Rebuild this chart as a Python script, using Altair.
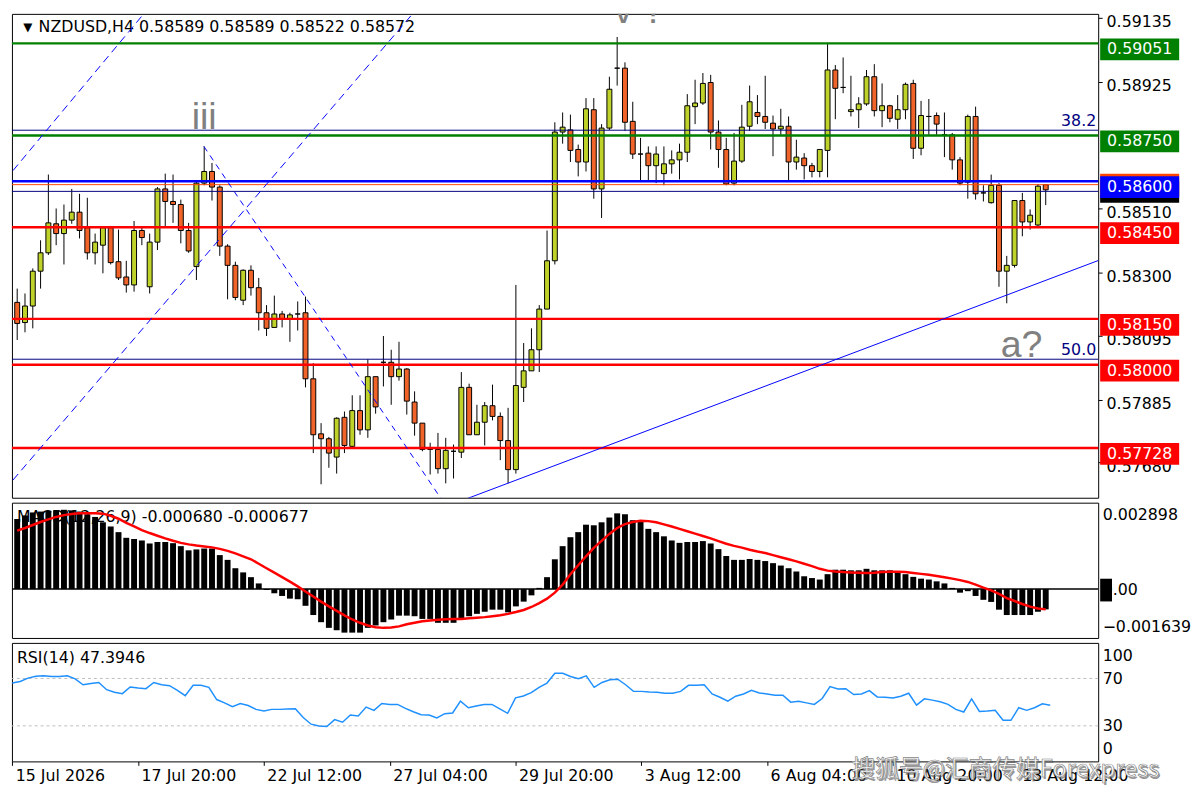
import altair as alt
import pandas as pd

# ---------------- data ----------------
# prices in points (1 point = 0.00001)
open_pts = [
    58204, 58138, 58192, 58306, 58366, 58461, 58429, 58473, 58499, 58448,
    58366, 58391, 58448, 58337, 58287, 58261, 58439, 58255, 58401, 58575,
    58534, 58524, 58439, 58321, 58594, 58632, 58581, 58388, 58325, 58211,
    58309, 58252, 58170, 58122, 58166, 58150, 58166, 58170, 57954, 57774,
    57758, 57698, 57828, 57733, 57850, 57787, 57961, 58008, 58008, 57961,
    57986, 57878, 57809, 57723, 57723, 57660, 57717, 57714, 57926, 57771,
    57812, 57866, 57831, 57752, 57657, 57926, 57980, 58049, 58182, 58340,
    58761, 58768, 58704, 58663, 58834, 58575, 58774, 58970, 58970, 58796,
    58689, 58692, 58651, 58625, 58657, 58670, 58695, 58844, 58856, 58923,
    58761, 58704, 58594, 58666, 58780, 58825, 58812, 58790, 58771, 58780,
    58663, 58676, 58651, 58632, 58701, 58964, 58907, 58828, 58834, 58853,
    58942, 58831, 58847, 58803, 58834, 58920, 58708, 58812, 58815, 58752,
    58752, 58670, 58597, 58812, 58562, 58530, 58587, 58306, 58325, 58537,
    58467, 58457, 58589,
]
high_pts = [
    58249, 58233, 58315, 58407, 58622, 58511, 58524, 58575, 58559, 58546,
    58429, 58448, 58454, 58442, 58340, 58470, 58451, 58429, 58581, 58625,
    58622, 58540, 58464, 58600, 58714, 58660, 58587, 58394, 58337, 58312,
    58325, 58284, 58195, 58226, 58176, 58170, 58207, 58223, 58005, 57809,
    57764, 57828, 57847, 57900, 57900, 58018, 57961, 58094, 58049, 58075,
    57989, 57913, 57809, 57745, 57777, 57761, 57739, 57976, 57938, 57869,
    57878, 57935, 57844, 57859, 58261, 58071, 58119, 58195, 58439, 58793,
    58825, 58818, 58720, 58872, 58872, 58787, 58942, 59072, 58989, 58860,
    58742, 58714, 58714, 58714, 58701, 58723, 58885, 58932, 58954, 58948,
    58799, 58742, 58758, 58850, 58913, 58882, 58945, 58815, 58837, 58812,
    58736, 58692, 58660, 58704, 59053, 58980, 59005, 58945, 58875, 58964,
    58983, 58920, 58850, 58882, 58923, 58932, 58863, 58869, 58825, 58825,
    58758, 58679, 58818, 58844, 58587, 58622, 58594, 58356, 58537, 58562,
    58508, 58591, 58589,
]
low_pts = [
    58081, 58106, 58119, 58249, 58359, 58391, 58328, 58461, 58413, 58344,
    58328, 58299, 58328, 58277, 58236, 58239, 58391, 58233, 58375, 58451,
    58464, 58397, 58366, 58277, 58587, 58537, 58356, 58214, 58211, 58195,
    58226, 58112, 58094, 58122, 58122, 58075, 58112, 57926, 57711, 57609,
    57663, 57644, 57711, 57730, 57771, 57761, 57840, 57929, 57869, 57948,
    57837, 57768, 57717, 57641, 57644, 57612, 57628, 57695, 57771, 57771,
    57736, 57818, 57688, 57612, 57644, 57878, 57980, 57976, 58182, 58328,
    58723, 58663, 58616, 58632, 58543, 58480, 58768, 58913, 58765, 58673,
    58600, 58600, 58594, 58587, 58625, 58606, 58663, 58787, 58850, 58704,
    58644, 58587, 58587, 58660, 58765, 58787, 58771, 58682, 58752, 58600,
    58638, 58606, 58613, 58613, 58613, 58803, 58888, 58812, 58774, 58847,
    58812, 58777, 58793, 58771, 58803, 58673, 58685, 58752, 58752, 58679,
    58638, 58587, 58543, 58540, 58534, 58527, 58255, 58201, 58318, 58420,
    58442, 58454, 58522,
]
close_pts = [
    58135, 58192, 58306, 58366, 58464, 58429, 58473, 58499, 58439, 58366,
    58401, 58448, 58334, 58284, 58261, 58439, 58416, 58401, 58575, 58534,
    58524, 58439, 58372, 58594, 58632, 58581, 58388, 58325, 58220, 58309,
    58252, 58170, 58119, 58166, 58150, 58163, 58166, 57954, 57771, 57758,
    57711, 57825, 57736, 57850, 57787, 57961, 57862, 58008, 57961, 57986,
    57881, 57809, 57723, 57723, 57660, 57720, 57717, 57926, 57771, 57812,
    57866, 57831, 57752, 57657, 57932, 57980, 58049, 58182, 58340, 58761,
    58777, 58701, 58663, 58837, 58575, 58774, 58901, 58970, 58793, 58689,
    58689, 58651, 58689, 58657, 58670, 58695, 58847, 58856, 58920, 58761,
    58704, 58591, 58666, 58777, 58860, 58812, 58793, 58771, 58780, 58663,
    58679, 58651, 58632, 58704, 58964, 58904, 58907, 58834, 58853, 58942,
    58831, 58847, 58806, 58834, 58917, 58708, 58815, 58812, 58787, 58752,
    58670, 58594, 58812, 58559, 58562, 58587, 58306, 58325, 58537, 58467,
    58489, 58584, 58572,
]
# MACD main (histogram) and signal, in units of 0.001
macd_milli = [
    2.35, 2.47, 2.57, 2.60, 2.62, 2.64, 2.66, 2.64, 2.60, 2.51,
    2.42, 2.24, 2.10, 1.91, 1.72, 1.68, 1.63, 1.53, 1.58, 1.58,
    1.54, 1.44, 1.30, 1.33, 1.36, 1.36, 1.14, 0.98, 0.70, 0.56,
    0.40, 0.19, -0.03, -0.14, -0.23, -0.32, -0.34, -0.56, -0.87, -1.11,
    -1.30, -1.38, -1.46, -1.46, -1.46, -1.30, -1.22, -1.11, -1.02, -0.89,
    -0.89, -0.91, -1.00, -1.00, -1.13, -1.13, -1.13, -1.00, -0.91, -0.83,
    -0.76, -0.69, -0.69, -0.78, -0.58, -0.42, -0.21, 0.04, 0.40, 1.00,
    1.44, 1.74, 1.91, 2.16, 2.14, 2.24, 2.40, 2.54, 2.51, 2.31,
    2.29, 2.02, 1.91, 1.77, 1.63, 1.55, 1.58, 1.58, 1.61, 1.53,
    1.34, 1.11, 0.98, 0.98, 1.01, 0.98, 0.94, 0.87, 0.79, 0.70,
    0.59, 0.43, 0.37, 0.32, 0.50, 0.65, 0.65, 0.63, 0.63, 0.68,
    0.63, 0.63, 0.63, 0.57, 0.50, 0.41, 0.35, 0.32, 0.26, 0.19,
    0.04, -0.12, -0.07, -0.23, -0.36, -0.43, -0.69, -0.87, -0.87, -0.87,
    -0.87, -0.76, -0.68,
]
signal_milli = [
    1.96, 2.05, 2.15, 2.25, 2.34, 2.42, 2.48, 2.52, 2.54, 2.54,
    2.54, 2.53, 2.46, 2.36, 2.22, 2.10, 1.98, 1.88, 1.79, 1.70,
    1.62, 1.55, 1.50, 1.46, 1.43, 1.40, 1.35, 1.28, 1.20, 1.10,
    1.00, 0.85, 0.70, 0.55, 0.40, 0.25, 0.09, -0.08, -0.25, -0.42,
    -0.58, -0.73, -0.88, -1.02, -1.13, -1.22, -1.28, -1.30, -1.29, -1.25,
    -1.18, -1.13, -1.08, -1.05, -1.03, -1.01, -1.00, -1.00, -0.98, -0.96,
    -0.94, -0.91, -0.88, -0.83, -0.77, -0.70, -0.60, -0.47, -0.32, -0.12,
    0.15, 0.50, 0.80, 1.10, 1.38, 1.62, 1.85, 2.05, 2.18, 2.25,
    2.29, 2.28, 2.24, 2.17, 2.10, 2.02, 1.94, 1.86, 1.78, 1.70,
    1.61, 1.52, 1.45, 1.39, 1.32, 1.26, 1.21, 1.14, 1.07, 1.00,
    0.93, 0.85, 0.77, 0.68, 0.62, 0.59, 0.57, 0.56, 0.55, 0.54,
    0.55, 0.57, 0.58, 0.58, 0.57, 0.54, 0.51, 0.48, 0.44, 0.40,
    0.35, 0.30, 0.24, 0.15, 0.05, -0.04, -0.16, -0.30, -0.40, -0.50,
    -0.59, -0.65, -0.68,
]
rsi_vals = [
    66.1, 67.5, 70.3, 71.9, 72.2, 71.6, 71.6, 72.2, 69.7, 64.7,
    65.8, 66.6, 60.5, 58.3, 57.2, 62.8, 61.9, 61.4, 66.6, 64.7,
    63.9, 60.0, 55.5, 64.2, 64.2, 62.5, 52.2, 49.4, 46.1, 48.9,
    47.2, 43.9, 42.5, 43.9, 43.9, 44.2, 44.4, 37.0, 31.4, 29.8,
    29.5, 35.3, 33.1, 39.2, 38.4, 45.8, 43.1, 48.9, 48.1, 48.1,
    44.7, 41.9, 39.4, 39.2, 36.7, 40.3, 40.9, 50.8, 45.3, 46.7,
    48.1, 48.1, 44.4, 40.6, 53.6, 55.2, 58.0, 62.5, 66.1, 74.4,
    74.4, 71.6, 69.7, 72.2, 62.5, 66.6, 68.9, 69.4, 64.7, 59.1,
    59.1, 58.6, 58.3, 57.5, 57.5, 59.1, 64.2, 64.2, 64.7, 56.9,
    54.1, 50.8, 55.0, 56.9, 60.0, 57.8, 56.9, 55.8, 55.8, 50.0,
    50.8, 49.4, 48.1, 53.1, 63.1, 61.1, 61.4, 56.4, 56.9, 59.7,
    54.4, 54.1, 53.6, 55.0, 57.5, 47.5, 52.8, 51.7, 50.3, 48.1,
    43.9, 41.7, 52.8, 42.2, 42.5, 43.1, 34.7, 34.7, 45.3, 43.1,
    45.3, 48.6, 47.4,
]
date_labels = ["15 Jul 2026", "17 Jul 20:00", "22 Jul 12:00", "27 Jul 04:00",
               "29 Jul 20:00", "3 Aug 12:00", "6 Aug 04:00", "10 Aug 20:00",
               "13 Aug 12:00"]
date_positions = [0, 16, 32, 48, 64, 80, 96, 112, 128]
price_ticks = [0.59135, 0.58925, 0.58510, 0.58300, 0.58095, 0.57885, 0.57680]

title_text = "NZDUSD,H4  0.58589 0.58589 0.58522 0.58572"
macd_text = "MACD(12,26,9) -0.000680 -0.000677"
rsi_text = "RSI(14) 47.3946"
watermark = "搜狐号@汇商传媒Forexpress"

# horizontal levels
hl_price = [0.59051, 0.58750, 0.58767, 0.58600, 0.58589, 0.58567, 0.58450, 0.58150, 0.58018, 0.58000, 0.57728]
hl_color = ["#008000", "#008000", "#000080", "#0000FF", "#FF4500", "#000080", "#FF0000", "#FF0000", "#000080", "#FF0000", "#FF0000"]
hl_width = [2.5, 2.5, 1, 2.5, 1, 1, 2.5, 2.5, 1, 2.5, 2.5]

# trend lines (candle index, price)
dash_id = ["A", "A", "B", "B"]
dash_k = [-0.54, 17.1, -0.54, 51.6]
dash_p = [0.58635, 0.59174, 0.57623, 0.59173]
down_k = [23.96, 54.9]
down_p = [0.58714, 0.57543]
trend_k = [57.1, 138.97]
trend_p = [0.57556, 0.58343]

wave_txt = ["iii", "v ?", "a?"]
wave_k = [24.0, 79.8, 128.9]
wave_p = [0.58771, 0.59119, 0.58024]

fib_txt = ["38.2", "50.0"]
fib_p = [0.58767, 0.58018]

box_price = [0.59051, 0.58750, 0.58450, 0.58150, 0.58000, 0.57728, 0.58600]
box_color = ["#008000", "#008000", "#FF0000", "#FF0000", "#FF0000", "#FF0000", "#0000FF"]

assert all(len(a) == 133 for a in [open_pts, high_pts, low_pts, close_pts, macd_milli, signal_milli, rsi_vals])

# ---------------- layout / style ----------------
FONT = "DejaVu Sans"
W = 1100
H_MAIN, H_MACD, H_RSI = 490, 137, 120
BULL = "#BED22A"
BEAR = "#F0642A"

n = len(open_pts)
kk = list(range(n))
candles = pd.DataFrame({
    "k": kk,
    "open": [v / 1e5 for v in open_pts],
    "high": [v / 1e5 for v in high_pts],
    "low": [v / 1e5 for v in low_pts],
    "close": [v / 1e5 for v in close_pts],
})
candles["dir"] = ["down" if c < o else "up" for o, c in zip(candles["open"], candles["close"])]

XS = alt.Scale(domain=[-0.04, 138.1], nice=False, zero=False)
YS = alt.Scale(domain=[0.57565, 0.591475], nice=False, zero=False)

main_axis = alt.Axis(orient="right", values=price_ticks, format=".5f", title=None, grid=False,
                     domain=False, tickSize=4, tickColor="black", labelPadding=4, labelOffset=4,
                     labelFont=FONT, labelFontSize=16, labelColor="black", labelOverlap=False,
                     labelFlush=False)


def XM():
    return alt.X("k:Q", scale=XS, axis=None)


def YM(f):
    return alt.Y(f, type="quantitative", scale=YS, axis=main_axis)


one = pd.DataFrame({"t": [title_text]})
title_l = alt.Chart(one).mark_text(align="left", baseline="middle", font=FONT, fontSize=16,
                                   color="black").encode(x=alt.value(27), y=alt.value(13), text="t:N")
tri_l = alt.Chart(pd.DataFrame({"t": ["▼"]})).mark_text(align="center", baseline="middle", font=FONT,
                                                        fontSize=12, color="black").encode(
    x=alt.value(16), y=alt.value(13), text="t:N")

wick = alt.Chart(candles).mark_rule(color="black", strokeWidth=1).encode(x=XM(), y=YM("low"), y2="high:Q")
body = alt.Chart(candles).mark_bar(size=5, stroke="black", strokeWidth=1, orient="vertical").encode(
    x=XM(), y=YM("open"), y2="close:Q",
    fill=alt.Fill("dir:N", scale=alt.Scale(domain=["up", "down"], range=[BULL, BEAR]), legend=None))

hl_df = pd.DataFrame({"price": hl_price, "col": hl_color, "sw": hl_width})
hlines = alt.Chart(hl_df).mark_rule().encode(
    y=YM("price"), color=alt.Color("col:N", scale=None),
    strokeWidth=alt.StrokeWidth("sw:Q", scale=None))

dash_df = pd.DataFrame({"id": dash_id, "k": dash_k, "price": dash_p})
dash_l = alt.Chart(dash_df).mark_line(color="#0000FF", strokeWidth=1, strokeDash=[8, 5], clip=True).encode(
    x=XM(), y=YM("price"), detail="id:N")
down_df = pd.DataFrame({"k": down_k, "price": down_p})
down_l = alt.Chart(down_df).mark_line(color="#0000FF", strokeWidth=1, strokeDash=[6, 5], clip=True).encode(
    x=XM(), y=YM("price"))
trend_df = pd.DataFrame({"k": trend_k, "price": trend_p})
trend_l = alt.Chart(trend_df).mark_line(color="#0000FF", strokeWidth=1, clip=True).encode(
    x=XM(), y=YM("price"))

wave_df = pd.DataFrame({"k": wave_k, "price": wave_p, "txt": wave_txt})
wave_l = alt.Chart(wave_df).mark_text(font="Liberation Sans", fontSize=38, color="#808080",
                                      baseline="alphabetic", align="center", clip=True).encode(
    x=XM(), y=YM("price"), text="txt:N")

fib_df = pd.DataFrame({"price": fib_p, "txt": fib_txt})
fib_l = alt.Chart(fib_df).mark_text(font=FONT, fontSize=16, color="#000080", align="right",
                                    baseline="alphabetic", dy=-4).encode(
    x=alt.value(W - 2), y=YM("price"), text="txt:N")

RECT80 = "M-1,-0.275L1,-0.275L1,0.275L-1,0.275Z"
box_df = pd.DataFrame({"price": box_price, "col": box_color,
                       "txt": [f"{p:.5f}" for p in box_price]})
cur_black = alt.Chart(pd.DataFrame({"price": [0.58572]})).mark_point(
    shape=RECT80, size=6400, filled=True, opacity=1, strokeWidth=0, color="black", yOffset=2).encode(
    x=alt.value(W + 42), y=YM("price"))
cur_orange = alt.Chart(pd.DataFrame({"price": [0.58589]})).mark_point(
    shape=RECT80, size=6400, filled=True, opacity=1, strokeWidth=0, color="#FF4500", yOffset=0).encode(
    x=alt.value(W + 42), y=YM("price"))
boxes = alt.Chart(box_df).mark_point(shape=RECT80, size=6400, filled=True, opacity=1, strokeWidth=0,
                                     yOffset=6).encode(
    x=alt.value(W + 42), y=YM("price"), color=alt.Color("col:N", scale=None))
box_txt = alt.Chart(box_df).mark_text(font=FONT, fontSize=16, color="white", align="left",
                                      baseline="middle", dy=6).encode(
    x=alt.value(W + 9), y=YM("price"), text="txt:N")

main = alt.layer(title_l, tri_l, wick, body, hlines, dash_l, down_l, trend_l, wave_l, fib_l,
                 cur_black, cur_orange, boxes, box_txt).properties(width=W, height=H_MAIN)

# ---------------- MACD ----------------
macd_df = pd.DataFrame({"k": kk, "macd": [v / 1000 for v in macd_milli],
                        "signal": [v / 1000 for v in signal_milli], "zero": [0.0] * n})
MY = alt.Scale(domain=[-0.001639, 0.002898], nice=False, zero=False)
macd_axis = alt.Axis(orient="right", values=[0.002898, 0.0, -0.001639],
                     labelExpr="datum.value == 0 ? '0.00' : format(datum.value, '.6f')",
                     labelFlush=True, labelFlushOffset=-4, tickSize=0, labelPadding=4, domain=False,
                     grid=False, title=None, labelFont=FONT, labelFontSize=16, labelColor="black",
                     labelOverlap=False)


def YMa(f):
    return alt.Y(f, type="quantitative", scale=MY, axis=macd_axis)


macd_lbl = alt.Chart(pd.DataFrame({"t": [macd_text]})).mark_text(
    align="left", baseline="middle", font=FONT, fontSize=16, color="black").encode(
    x=alt.value(5), y=alt.value(15), text="t:N")
macd_bars = alt.Chart(macd_df).mark_bar(size=6, color="black", orient="vertical").encode(
    x=XM(), y=YMa("macd"), y2="zero:Q")
zero_df = pd.DataFrame({"z": [0.0]})
zero_l = alt.Chart(zero_df).mark_rule(color="black", strokeWidth=1.5).encode(y=YMa("z"))
sig_l = alt.Chart(macd_df).mark_line(color="#FF0000", strokeWidth=2.5).encode(x=XM(), y=YMa("signal"))
zero_box = alt.Chart(zero_df).mark_point(shape="M-0.52,-1L0.52,-1L0.52,1L-0.52,1Z", size=529, filled=True,
                                         opacity=1, strokeWidth=0, color="black", yOffset=1).encode(
    x=alt.value(W + 8), y=YMa("z"))

macd = alt.layer(macd_lbl, macd_bars, zero_l, sig_l, zero_box).properties(width=W, height=H_MACD)

# ---------------- RSI ----------------
rsi_df = pd.DataFrame({"k": kk, "rsi": rsi_vals})
RY = alt.Scale(domain=[0, 100], nice=False, zero=False)
rsi_axis = alt.Axis(orient="right", values=[100, 70, 30, 0], labelFlush=True, labelFlushOffset=-5,
                    tickSize=0, labelPadding=4, domain=False, grid=False, title=None, labelFont=FONT,
                    labelFontSize=16, labelColor="black", labelOverlap=False)
label_js = "[" + ",".join(f"'{s}'" for s in date_labels) + "][round(datum.value / 16)]"
x_axis = alt.Axis(orient="bottom", values=date_positions, labelExpr=label_js, labelAlign="left",
                  labelBaseline="top", labelOffset=3, labelPadding=2, tickSize=4, tickColor="black",
                  domain=False, grid=False, title=None, labelFont=FONT, labelFontSize=16,
                  labelColor="black", labelOverlap=False, labelBound=False, labelFlush=False)


def XR():
    return alt.X("k:Q", scale=XS, axis=x_axis)


def YR(f):
    return alt.Y(f, type="quantitative", scale=RY, axis=rsi_axis)


rsi_lbl = alt.Chart(pd.DataFrame({"t": [rsi_text]})).mark_text(
    align="left", baseline="middle", font=FONT, fontSize=16, color="black").encode(
    x=alt.value(5), y=alt.value(15), text="t:N")
lvl_l = alt.Chart(pd.DataFrame({"lvl": [70, 30]})).mark_rule(
    color="#BEBEBE", strokeWidth=1, strokeDash=[3, 3]).encode(y=YR("lvl"))
rsi_l = alt.Chart(rsi_df).mark_line(color="#1E90FF", strokeWidth=1.5).encode(x=XR(), y=YR("rsi"))
wm = pd.DataFrame({"t": [watermark]})
wm_shadow = alt.Chart(wm).mark_text(align="right", baseline="middle", font="Noto Sans CJK SC", fontSize=24,
                                    color="#555555", opacity=0.6, dx=1.5, dy=1.5).encode(
    x=alt.value(W + 62), y=alt.value(129), text="t:N")
wm_text = alt.Chart(wm).mark_text(align="right", baseline="middle", font="Noto Sans CJK SC", fontSize=24,
                                  color="white", stroke="#888888", strokeWidth=0.7).encode(
    x=alt.value(W + 62), y=alt.value(129), text="t:N")

rsi = alt.layer(rsi_lbl, lvl_l, rsi_l, wm_shadow, wm_text).properties(width=W, height=H_RSI)

chart = alt.vconcat(main, macd, rsi, spacing=3).properties(padding=0).configure(
    font=FONT).configure_view(stroke="black", strokeWidth=1)

chart.save("out.html", embed_options={"renderer": "svg", "actions": False})
